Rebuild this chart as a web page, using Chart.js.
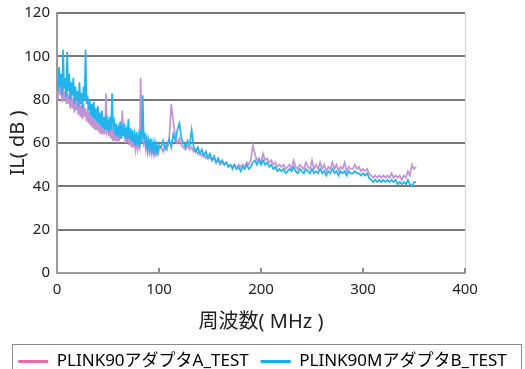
<!DOCTYPE html>
<html>
<head>
<meta charset="utf-8">
<script src="https://cdn.jsdelivr.net/npm/chart.js@4/dist/chart.umd.min.js"></script>
<style>
  html, body { margin: 0; padding: 0; background: #fff; }
  #wrap { width: 525px; height: 369px; }
</style>
</head>
<body>
<div id="wrap"><canvas id="c" width="525" height="369"></canvas></div>
<script>
// Frequency sweep (MHz): 1 MHz steps up to 100, then 2 MHz steps
const freqMHz = [
  0,1,2,3,4,5,6,7,8,9,10,11,12,13,14,15,16,17,18,19,20,21,22,23,24,25,26,27,28,29,30,
  31,32,33,34,35,36,37,38,39,40,41,42,43,44,45,46,47,48,49,50,
  51,52,53,54,55,56,57,58,59,60,61,62,63,64,65,66,67,68,69,70,71,72,73,74,75,
  76,77,78,79,80,81,82,83,84,85,86,87,88,89,90,91,92,93,94,95,96,97,98,99,100,
  102,104,106,108,110,112,114,116,118,120,122,124,126,128,130,132,134,136,138,140,142,144,146,148,150,
  152,154,156,158,160,162,164,166,168,170,172,174,176,178,180,182,184,186,188,190,192,194,196,198,200,
  202,204,206,208,210,212,214,216,218,220,222,224,226,228,230,232,234,236,238,240,242,244,246,248,250,
  252,254,256,258,260,262,264,266,268,270,272,274,276,278,280,282,284,286,288,290,292,294,296,298,300,
  302,304,306,308,310,312,314,316,318,320,322,324,326,328,330,332,334,336,338,340,342,344,346,348,350,352
];

// Insertion loss (dB), adapter A
const ilA = [
  86,80,95,82,88,79,86,80,84,78,86,78,82,76,84,76,80,74,82,75,79,73,80,72,77,71,78,72,76,70,74,
  69,75,68,72,67,73,66,70,66,72,65,69,64,70,64,68,64,83,65,67,
  63,69,62,66,61,67,61,65,60,66,61,68,62,75,64,67,60,65,60,67,59,63,58,64,58,
  62,57,61,57,60,58,90,64,66,60,62,57,61,56,60,56,59,55,58,55,58,55,57,55,57,
  58,56,59,57,62,78,70,63,60,62,59,58,57,59,57,58,56,57,55,56,54,55,53,54,53,
  52,53,51,52,50,51,50,51,49,50,49,50,48,50,49,50,49,51,50,52,59,55,52,53,51,
  55,52,53,51,52,50,51,49,50,49,50,48,49,50,48,52,49,48,50,49,48,51,49,48,52,
  48,50,48,51,48,50,47,49,48,51,48,50,47,49,48,51,47,49,48,48,50,48,49,47,48,
  47,48,46,45,44,45,44,45,44,45,44,45,44,46,44,45,44,45,43,45,44,47,45,50,48,49
];

// Insertion loss (dB), adapter B
const ilB = [
  90,84,95,86,92,82,103,85,90,81,102,84,92,80,88,82,90,78,86,80,84,77,88,78,83,76,86,80,103,78,82,
  75,80,73,78,72,79,71,76,70,77,69,74,68,75,67,72,66,73,66,70,
  65,72,66,83,68,70,64,69,63,67,64,70,62,68,63,69,62,66,63,71,62,67,61,66,60,
  64,59,65,59,63,58,66,60,82,63,64,59,62,57,61,57,62,57,60,56,60,56,59,56,59,
  58,61,57,59,62,58,64,61,66,69,62,60,58,61,59,66,58,56,58,55,57,54,56,53,55,
  52,54,51,53,51,52,50,51,49,50,48,50,48,49,47,49,48,50,48,49,51,52,50,52,50,
  52,50,51,49,50,48,49,47,48,47,48,46,47,48,47,49,47,46,48,47,46,48,47,46,48,
  46,47,46,48,46,47,45,47,46,48,46,47,45,47,46,47,45,47,46,46,47,46,46,45,46,
  45,46,44,43,42,43,42,43,42,43,42,43,42,43,42,43,41,42,41,42,41,43,41,40,42,42
];

const seriesNames = ['PLINK90アダプタA_TEST', 'PLINK90MアダプタB_TEST'];
const xTicks = [0, 100, 200, 300, 400];
const yTicks = [0, 20, 40, 60, 80, 100, 120];

const FONT = '"Noto Sans", "Noto Sans CJK JP", sans-serif';
const lineColors = ['#c493d6', '#22b4ee'];
const legendColors = ['#ee6ba9', '#14afea'];

const toPoints = ys => freqMHz.map((f, i) => ({ x: f, y: ys[i] }));

// Inward tick marks on the frequency axis and a frame around the legend
const decorations = {
  id: 'decorations',
  afterDraw(chart) {
    const { ctx, scales: { x }, chartArea } = chart;
    ctx.save();
    ctx.strokeStyle = '#8c8c8c';
    ctx.lineWidth = 2;
    xTicks.slice(1).forEach(v => {
      const px = Math.round(x.getPixelForValue(v));
      ctx.beginPath();
      ctx.moveTo(px, chartArea.bottom);
      ctx.lineTo(px, chartArea.bottom - 5);
      ctx.stroke();
    });
    ctx.strokeStyle = '#8a8a8a';
    ctx.lineWidth = 1;
    ctx.strokeRect(12.5, chart.legend.top + 3.5, 509, 40);
    ctx.restore();
  }
};

new Chart(document.getElementById('c'), {
  type: 'line',
  data: {
    datasets: [
      { label: seriesNames[0], data: toPoints(ilA), borderColor: lineColors[0], borderWidth: 1.7, pointRadius: 0, tension: 0, order: 2 },
      { label: seriesNames[1], data: toPoints(ilB), borderColor: lineColors[1], borderWidth: 1.7, pointRadius: 0, tension: 0, order: 1 }
    ]
  },
  options: {
    responsive: false,
    animation: false,
    layout: { padding: { left: 0, top: 13, right: 0, bottom: -11 } },
    plugins: {
      tooltip: { enabled: false },
      legend: {
        position: 'bottom',
        labels: {
          font: { family: FONT, size: 17 },
          color: '#222',
          usePointStyle: true,
          pointStyleWidth: 30,
          padding: 12,
          generateLabels: chart => chart.data.datasets.map((ds, i) => ({
            text: ds.label,
            fillStyle: legendColors[i],
            strokeStyle: legendColors[i],
            lineWidth: 3,
            pointStyle: 'line',
            datasetIndex: i,
            hidden: false
          }))
        }
      }
    },
    scales: {
      x: {
        type: 'linear',
        min: 0, max: 400,
        afterBuildTicks: s => { s.ticks = xTicks.map(v => ({ value: v })); },
        afterFit: s => { s.height = 68; },
        ticks: { font: { family: FONT, size: 15 }, color: '#222', padding: 8 },
        grid: {
          drawTicks: false, tickLength: 0, lineWidth: 1,
          color: c => (c.tick && c.tick.value === 400 ? '#d4d4d4' : 'rgba(0,0,0,0)')
        },
        border: { color: '#9a9a9a', width: 2 },
        title: { display: true, text: '周波数( MHz )', font: { family: FONT, size: 20 }, color: '#222', padding: { top: 0, bottom: 7 } }
      },
      y: {
        min: 0, max: 120,
        afterBuildTicks: s => { s.ticks = yTicks.map(v => ({ value: v })); },
        afterFit: s => { s.width = 57; s.paddingTop = 0; s.paddingBottom = 0; },
        ticks: { font: { family: FONT, size: 15 }, color: '#222', padding: 7 },
        grid: {
          drawTicks: false, tickLength: 0, lineWidth: 2,
          color: c => (c.tick && c.tick.value === 0 ? 'rgba(0,0,0,0)' : '#777')
        },
        border: { color: '#9a9a9a', width: 2 },
        title: { display: true, text: 'IL( dB )', font: { family: FONT, size: 20 }, color: '#222', padding: { top: 6, bottom: 0 } }
      },
      // empty right-hand axis that only reserves the margin beside the plot
      yRight: {
        position: 'right',
        min: 0, max: 120,
        afterFit: s => { s.width = 60; s.paddingTop = 0; s.paddingBottom = 0; },
        ticks: { display: false },
        grid: { display: false, drawTicks: false },
        border: { display: false }
      }
    }
  },
  plugins: [decorations]
});
</script>
</body>
</html>
